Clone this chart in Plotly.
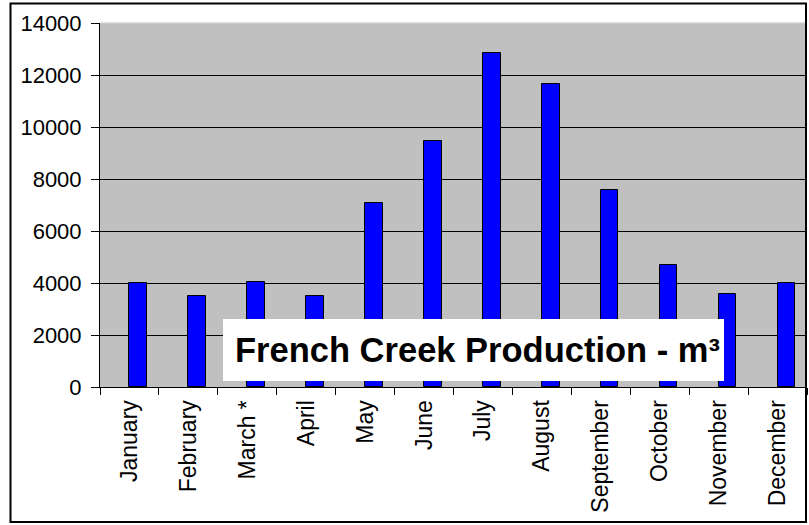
import plotly.graph_objects as go

months = ["January", "February", "March *", "April", "May", "June", "July",
          "August", "September", "October", "November", "December"]
production = [4000, 3500, 4040, 3500, 7080, 9450, 12850, 11660, 7580, 4690, 3560, 4000]
y_ticks = [0, 2000, 4000, 6000, 8000, 10000, 12000, 14000]
title_text = "French Creek Production - m³"

W, H = 809, 525
L, R, T, B = 100, 2, 23, 138
pw, ph = W - L - R, H - T - B

def px_x(p):
    return (p - L) / pw

def px_y(p):
    return (H - B - p) / ph

font_family = "Arial, Liberation Sans, sans-serif"

fig = go.Figure()
fig.add_trace(go.Bar(
    x=months, y=production,
    marker=dict(color="#0000FF", line=dict(color="black", width=1)),
    width=0.3, offset=0,
))

fig.update_layout(
    width=W, height=H,
    margin=dict(l=L, r=R, t=T, b=B, pad=0, autoexpand=False),
    paper_bgcolor="white",
    plot_bgcolor="#C0C0C0",
    showlegend=False,
    font=dict(family=font_family, color="black"),
    bargap=0,
)
fig.update_xaxes(
    type="category",
    automargin=False,
    tickangle=-90,
    tickson="boundaries",
    ticks="outside", ticklen=7, tickcolor="black", tickwidth=1,
    ticklabelstandoff=3,
    showline=True, linecolor="black", linewidth=1,
    showgrid=False,
    tickfont=dict(size=23, family=font_family, color="black"),
    range=[-0.5, 11.5],
)
fig.update_yaxes(
    automargin=False,
    range=[0, 14000],
    tickvals=y_ticks,
    ticktext=[str(v) for v in y_ticks],
    ticks="outside", ticklen=8, tickcolor="black", tickwidth=1,
    ticklabelstandoff=5,
    showline=True, linecolor="black", linewidth=1,
    showgrid=True, gridcolor="black", gridwidth=1,
    zeroline=False,
    tickfont=dict(size=22, family=font_family, color="black"),
)

# light top edge of the plot area (no dark gridline there in the original)
fig.add_shape(type="line", xref="paper", yref="paper",
              x0=0.0015, x1=1, y0=1, y1=1,
              line=dict(color="#D0D0D0", width=1.5), layer="above")
# outer chart border
fig.add_shape(type="rect", xref="paper", yref="paper",
              x0=px_x(10.5), x1=px_x(806), y0=px_y(522), y1=px_y(3.5),
              line=dict(color="black", width=2), fillcolor="rgba(0,0,0,0)",
              layer="above")
# title box
fig.add_shape(type="rect", xref="paper", yref="paper",
              x0=px_x(223), x1=px_x(724), y0=px_y(381), y1=px_y(319),
              line=dict(width=0), fillcolor="white", layer="above")
fig.add_annotation(
    xref="paper", yref="paper",
    x=px_x(477), y=px_y(350), xanchor="center", yanchor="middle",
    text="<b>" + title_text + "</b>", showarrow=False,
    font=dict(size=34.5, family=font_family, color="black"),
)

fig.write_html("out.html",
               config={"displayModeBar": False},
               post_script="document.body.style.margin='0';document.body.style.overflow='hidden';")
